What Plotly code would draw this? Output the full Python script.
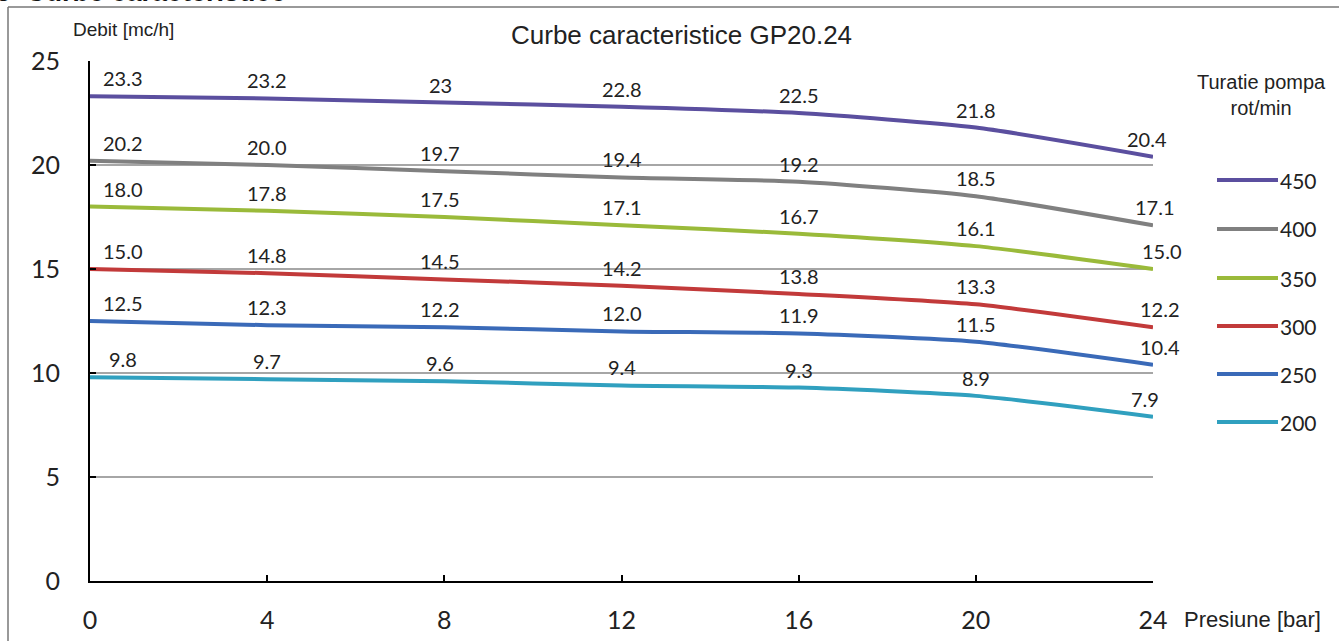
import plotly.graph_objects as go

pressure = [0, 4, 8, 12, 16, 20, 24]
speeds = ["450", "400", "350", "300", "250", "200"]
flow_450 = [23.3, 23.2, 23.0, 22.8, 22.5, 21.8, 20.4]
flow_400 = [20.2, 20.0, 19.7, 19.4, 19.2, 18.5, 17.1]
flow_350 = [18.0, 17.8, 17.5, 17.1, 16.7, 16.1, 15.0]
flow_300 = [15.0, 14.8, 14.5, 14.2, 13.8, 13.3, 12.2]
flow_250 = [12.5, 12.3, 12.2, 12.0, 11.9, 11.5, 10.4]
flow_200 = [9.8, 9.7, 9.6, 9.4, 9.3, 8.9, 7.9]
label_450 = ["23.3", "23.2", "23", "22.8", "22.5", "21.8", "20.4"]
label_400 = ["20.2", "20.0", "19.7", "19.4", "19.2", "18.5", "17.1"]
label_350 = ["18.0", "17.8", "17.5", "17.1", "16.7", "16.1", "15.0"]
label_300 = ["15.0", "14.8", "14.5", "14.2", "13.8", "13.3", "12.2"]
label_250 = ["12.5", "12.3", "12.2", "12.0", "11.9", "11.5", "10.4"]
label_200 = ["9.8", "9.7", "9.6", "9.4", "9.3", "8.9", "7.9"]
x_ticks = [0, 4, 8, 12, 16, 20, 24]
y_ticks = [0, 5, 10, 15, 20, 25]

series = [flow_450, flow_400, flow_350, flow_300, flow_250, flow_200]
labels = [label_450, label_400, label_350, label_300, label_250, label_200]
colors = ["#5b4f9f", "#808080", "#9aba3a", "#c23a3a", "#3a6ab8", "#30a0bf"]

W, H = 1339, 641
ML, MR, MT, MB = 90, 186, 61, 60
PW = W - ML - MR
PH = H - MT - MB


def px(x):
    return (x - ML) / PW


def py(y):
    return (H - MB - y) / PH


fig = go.Figure()
LABEL_FONT = dict(family="Lato, Open Sans, sans-serif", size=20, color="#222222")
xshifts = [33, 0, -4, 0, 0, 0, -2]
last_shift = [-6, 2, 9, 7, 7, -8]

for i, (name, ys, lbs, c) in enumerate(zip(speeds, series, labels, colors)):
    fig.add_trace(go.Scatter(
        x=pressure, y=ys, mode="lines", name=name,
        line=dict(color=c, width=4, shape="spline", smoothing=0.6),
        showlegend=False, hoverinfo="skip"))
    for j, (xv, yv, t) in enumerate(zip(pressure, ys, lbs)):
        xs = xshifts[j] if j < 6 else last_shift[i]
        fig.add_annotation(x=xv, y=yv, text=t, showarrow=False,
                           xref="x", yref="y", xshift=xs, yshift=18,
                           font=LABEL_FONT)

# custom legend
legend_y_px = [180, 229, 278, 326, 374, 422]
for name, c, ly in zip(speeds, colors, legend_y_px):
    fig.add_shape(type="line", xref="paper", yref="paper", x0=px(1217), x1=px(1278),
                  y0=py(ly), y1=py(ly), line=dict(color=c, width=4))
    fig.add_annotation(xref="paper", yref="paper", x=px(1278), y=py(ly), text=name,
                       showarrow=False, xanchor="left", yanchor="middle",
                       font=dict(family="Lato, Open Sans, sans-serif", size=21, color="#222222"))

fig.add_annotation(xref="paper", yref="paper", x=px(1261), y=py(95),
                   text="Turatie pompa<br>rot/min", showarrow=False, xanchor="center", yanchor="middle",
                   font=dict(family="Liberation Sans, Arial, sans-serif", size=20, color="#222222"))

# title
fig.add_annotation(xref="paper", yref="paper", x=px(681), y=py(35),
                   text="Curbe caracteristice GP20.24", showarrow=False, xanchor="center", yanchor="middle",
                   font=dict(family="Liberation Sans, Arial, sans-serif", size=26, color="#222222"))
# axis titles
fig.add_annotation(xref="paper", yref="paper", x=px(71), y=py(30),
                   text="Debit [mc/h]", showarrow=False, xanchor="left", yanchor="middle",
                   font=dict(family="Liberation Sans, Arial, sans-serif", size=19, color="#222222"))
fig.add_annotation(xref="paper", yref="paper", x=px(1182), y=py(619),
                   text="Presiune [bar]", showarrow=False, xanchor="left", yanchor="middle",
                   font=dict(family="Liberation Sans, Arial, sans-serif", size=22, color="#222222"))
# cut-off section heading at the very top
fig.add_annotation(xref="paper", yref="paper", x=px(-6), y=py(-8),
                   text="<b>5  Curbe caracteristice</b>", showarrow=False, xanchor="left", yanchor="middle",
                   font=dict(family="Liberation Sans, Arial, sans-serif", size=27, color="#111111"))
# page frame
fig.add_shape(type="line", xref="paper", yref="paper", x0=px(8), x1=px(W + 5),
              y0=py(7), y1=py(7), line=dict(color="#777777", width=1.5))
fig.add_shape(type="line", xref="paper", yref="paper", x0=px(8), x1=px(8),
              y0=py(7), y1=py(H + 5), line=dict(color="#777777", width=1.5))

fig.update_layout(
    width=W, height=H,
    margin=dict(l=ML, r=MR, t=MT, b=MB, autoexpand=False),
    paper_bgcolor="white", plot_bgcolor="white",
    showlegend=False,
)
fig.update_xaxes(range=[0, 24], tickvals=x_ticks, ticktext=[str(v) for v in x_ticks],
                 showgrid=False, zeroline=False, showline=True, linecolor="black", linewidth=2,
                 ticks="inside", ticklen=6, tickcolor="black", tickwidth=2,
                 ticklabelstandoff=16, automargin=False,
                 tickfont=dict(family="Lato, Open Sans, sans-serif", size=25, color="#222222"))
fig.update_yaxes(range=[0, 25], tickvals=y_ticks, ticktext=[str(v) for v in y_ticks],
                 showgrid=True, gridcolor="#a6a6a6", gridwidth=1.5, zeroline=False,
                 showline=True, linecolor="black", linewidth=2,
                 ticks="inside", ticklen=6, tickcolor="black", tickwidth=2,
                 ticklabelstandoff=23, automargin=False,
                 tickfont=dict(family="Lato, Open Sans, sans-serif", size=25, color="#222222"))

fig.write_html("out.html", config={"displayModeBar": False},
               post_script="document.body.style.margin='0';")
